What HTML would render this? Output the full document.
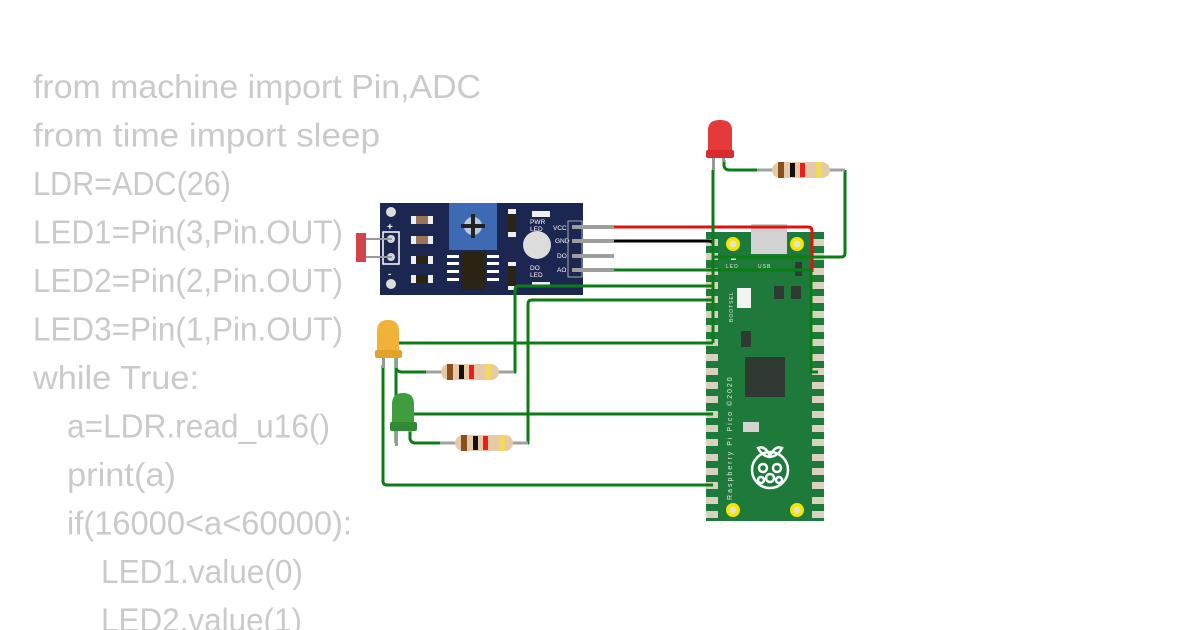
<!DOCTYPE html>
<html><head><meta charset="utf-8"><style>
html,body{margin:0;padding:0;background:#fff;width:1200px;height:630px;overflow:hidden}
</style></head><body>
<svg width="1200" height="630" viewBox="0 0 1200 630" xmlns="http://www.w3.org/2000/svg">
<defs>
<g id="res">
  <rect x="0" y="-1.5" width="88" height="3" fill="#a0a0a0"/>
  <rect x="15" y="-8" width="58" height="16" rx="8" fill="#e6c9a6"/>
  <rect x="21" y="-8" width="6" height="16" fill="#8a4f1c"/>
  <rect x="33" y="-7" width="5" height="14" fill="#111"/>
  <rect x="43" y="-7" width="5" height="14" fill="#ee1c1c"/>
  <rect x="59" y="-8" width="6" height="16" fill="#f2d95a"/>
</g>
</defs>
<g font-family="Liberation Sans, sans-serif" font-size="33" fill="#cacaca">
<text x="33" y="98" textLength="448" lengthAdjust="spacingAndGlyphs">from machine import Pin,ADC</text>
<text x="33" y="146.5" textLength="347" lengthAdjust="spacingAndGlyphs">from time import sleep</text>
<text x="33" y="195" textLength="198" lengthAdjust="spacingAndGlyphs">LDR=ADC(26)</text>
<text x="33" y="243.5" textLength="310" lengthAdjust="spacingAndGlyphs">LED1=Pin(3,Pin.OUT)</text>
<text x="33" y="292" textLength="310" lengthAdjust="spacingAndGlyphs">LED2=Pin(2,Pin.OUT)</text>
<text x="33" y="340.5" textLength="310" lengthAdjust="spacingAndGlyphs">LED3=Pin(1,Pin.OUT)</text>
<text x="33" y="389" textLength="166" lengthAdjust="spacingAndGlyphs">while True:</text>
<text x="67" y="437.5" textLength="263" lengthAdjust="spacingAndGlyphs">a=LDR.read_u16()</text>
<text x="67" y="486" textLength="109" lengthAdjust="spacingAndGlyphs">print(a)</text>
<text x="67" y="534.5" textLength="285" lengthAdjust="spacingAndGlyphs">if(16000&lt;a&lt;60000):</text>
<text x="101" y="583" textLength="202" lengthAdjust="spacingAndGlyphs">LED1.value(0)</text>
<text x="101" y="631.5" textLength="201" lengthAdjust="spacingAndGlyphs">LED2.value(1)</text>
</g>

<!-- Pico board -->
<rect x="706" y="232" width="118" height="289" fill="#1e7a3a"/>
<rect x="751" y="224" width="36" height="14" fill="#cfcfcf"/>
<g fill="#d8d1bd">
<rect x="706" y="239" width="12" height="7"/><rect x="706" y="253" width="12" height="7"/><rect x="706" y="268" width="12" height="7"/><rect x="706" y="282" width="12" height="7"/><rect x="706" y="296" width="12" height="7"/><rect x="706" y="311" width="12" height="7"/><rect x="706" y="325" width="12" height="7"/><rect x="706" y="339" width="12" height="7"/><rect x="706" y="354" width="12" height="7"/><rect x="706" y="368" width="12" height="7"/><rect x="706" y="382" width="12" height="7"/><rect x="706" y="396" width="12" height="7"/><rect x="706" y="411" width="12" height="7"/><rect x="706" y="425" width="12" height="7"/><rect x="706" y="439" width="12" height="7"/><rect x="706" y="454" width="12" height="7"/><rect x="706" y="468" width="12" height="7"/><rect x="706" y="482" width="12" height="7"/><rect x="706" y="497" width="12" height="7"/><rect x="706" y="511" width="12" height="7"/>
<rect x="812" y="239" width="12" height="7"/><rect x="812" y="253" width="12" height="7"/><rect x="812" y="268" width="12" height="7"/><rect x="812" y="282" width="12" height="7"/><rect x="812" y="296" width="12" height="7"/><rect x="812" y="311" width="12" height="7"/><rect x="812" y="325" width="12" height="7"/><rect x="812" y="339" width="12" height="7"/><rect x="812" y="354" width="12" height="7"/><rect x="812" y="368" width="12" height="7"/><rect x="812" y="382" width="12" height="7"/><rect x="812" y="396" width="12" height="7"/><rect x="812" y="411" width="12" height="7"/><rect x="812" y="425" width="12" height="7"/><rect x="812" y="439" width="12" height="7"/><rect x="812" y="454" width="12" height="7"/><rect x="812" y="468" width="12" height="7"/><rect x="812" y="482" width="12" height="7"/><rect x="812" y="497" width="12" height="7"/><rect x="812" y="511" width="12" height="7"/>
</g>
<circle cx="733" cy="244" r="7" fill="#f5e600"/><circle cx="733" cy="244" r="3.5" fill="#e8e4c0"/>
<circle cx="797" cy="244" r="7" fill="#f5e600"/><circle cx="797" cy="244" r="3.5" fill="#e8e4c0"/>
<circle cx="733" cy="510" r="7" fill="#f5e600"/><circle cx="733" cy="510" r="3.5" fill="#e8e4c0"/>
<circle cx="797" cy="510" r="7" fill="#f5e600"/><circle cx="797" cy="510" r="3.5" fill="#e8e4c0"/>
<rect x="751" y="232" width="36" height="22" fill="#d2d2d2"/>
<rect x="731" y="257" width="5" height="3" fill="#eee"/>
<text x="726" y="268" font-family="Liberation Sans, sans-serif" font-size="5" fill="#e6e6e6" letter-spacing="1">LED</text>
<text x="758" y="268" font-family="Liberation Sans, sans-serif" font-size="5" fill="#e6e6e6" letter-spacing="1">USB</text>
<rect x="795" y="262" width="7" height="14" fill="#2f3a33"/>
<rect x="737" y="288" width="14" height="20" fill="#f2f2f2"/>
<rect x="774" y="286" width="10" height="13" fill="#2f3a33"/><rect x="791" y="286" width="10" height="13" fill="#2f3a33"/>
<rect x="741" y="331" width="10" height="16" fill="#2f3a33"/>
<rect x="745" y="357" width="40" height="40" fill="#2f3a33"/>
<rect x="743" y="422" width="16" height="10" fill="#d2d2d2"/>
<text transform="translate(732,500) rotate(-90)" font-family="Liberation Sans, sans-serif" font-size="7" fill="#e6e6e6" letter-spacing="2">Raspberry Pi Pico ©2020</text>
<text transform="translate(733,322) rotate(-90)" font-family="Liberation Sans, sans-serif" font-size="5" fill="#e6e6e6" letter-spacing="1">BOOTSEL</text>
<g fill="none" stroke="#fff" stroke-width="2.5">
<circle cx="770" cy="470" r="18"/>
<path d="M758 448 Q765 445 770 456 Q775 445 782 448 Q778 456 770 457 Q762 456 758 448Z"/>
<circle cx="763" cy="468" r="4"/><circle cx="777" cy="468" r="4"/><circle cx="770" cy="478" r="4"/><circle cx="761" cy="480" r="3"/><circle cx="779" cy="480" r="3"/>
</g>

<!-- Sensor board -->
<rect x="380" y="203" width="203" height="92" fill="#1b2651"/>
<rect x="449" y="203" width="48" height="47" fill="#3e6ab3"/>
<circle cx="473" cy="226" r="9" fill="#bcc7dc"/>
<rect x="471" y="214" width="4" height="24" fill="#222"/><rect x="461" y="224" width="24" height="4" fill="#222"/>
<circle cx="391" cy="212" r="5" fill="#ddd"/><circle cx="391" cy="284" r="5" fill="#ddd"/>
<text x="387" y="230" font-family="Liberation Sans" font-size="10" fill="#fff" font-weight="bold">+</text>
<text x="388" y="277" font-family="Liberation Sans" font-size="10" fill="#fff" font-weight="bold">-</text>
<rect x="383" y="232" width="16" height="32" fill="none" stroke="#fff" stroke-width="1.5"/>
<circle cx="391" cy="239" r="4" fill="#cfd3da"/><circle cx="391" cy="257" r="4" fill="#cfd3da"/>
<rect x="362" y="238" width="30" height="2" fill="#999"/><rect x="362" y="256" width="30" height="2" fill="#999"/>
<rect x="356" y="233" width="10" height="29" fill="#d2444b"/>
<rect x="411" y="216" width="22" height="8" fill="#eee"/><rect x="416" y="216" width="12" height="8" fill="#9b7355"/>
<rect x="411" y="236" width="22" height="8" fill="#eee"/><rect x="416" y="236" width="12" height="8" fill="#9b7355"/>
<rect x="411" y="256" width="22" height="8" fill="#eee"/><rect x="416" y="256" width="12" height="8" fill="#2a2414"/>
<rect x="411" y="275" width="22" height="8" fill="#eee"/><rect x="416" y="275" width="12" height="8" fill="#2a2414"/>
<rect x="461" y="252" width="24" height="38" fill="#2a2414"/>
<g fill="#fff"><rect x="447" y="255" width="12" height="3"/><rect x="447" y="262" width="12" height="3"/><rect x="447" y="270" width="12" height="3"/><rect x="447" y="278" width="12" height="3"/>
<rect x="487" y="255" width="12" height="3"/><rect x="487" y="262" width="12" height="3"/><rect x="487" y="270" width="12" height="3"/><rect x="487" y="278" width="12" height="3"/></g>
<rect x="508" y="209" width="8" height="28" fill="#eee"/><rect x="508" y="214" width="8" height="18" fill="#2a2414"/>
<rect x="508" y="262" width="8" height="28" fill="#eee"/><rect x="508" y="266" width="8" height="20" fill="#2a2414"/>
<rect x="532" y="211" width="18" height="6" fill="#eee"/>
<rect x="532" y="282" width="18" height="5" fill="#eee"/>
<circle cx="537" cy="245" r="14" fill="#dcdcdc"/>
<g font-family="Liberation Sans, sans-serif" font-size="6.5" fill="#fff">
<text x="530" y="224">PWR</text><text x="530" y="231">LED</text>
<text x="530" y="270">DO</text><text x="530" y="277">LED</text>
<text x="553" y="230">VCC</text><text x="555" y="243">GND</text><text x="557" y="258">DO</text><text x="557" y="272">AO</text>
</g>
<rect x="568" y="221" width="14" height="56" fill="none" stroke="#aaa" stroke-width="1"/>
<g fill="#9d9d9d"><rect x="572" y="225" width="42" height="4"/><rect x="572" y="239" width="42" height="4"/><rect x="572" y="254" width="42" height="4"/><rect x="572" y="268" width="42" height="4"/></g>

<!-- wires -->
<g fill="none" stroke-width="3" stroke-linejoin="round">
<path d="M614 227 H808 Q812 227 812 231 V272" stroke="#e31010"/>
<path d="M614 241 H708 Q713 241 713 244" stroke="#000"/>
<g stroke="#0b7d14">
<path d="M614 270 H811 V372 H818"/>
<path d="M713 170 V343"/>
<path d="M724 160 V166 Q725 170 729 170 H757"/>
<path d="M845 170 V253 Q845 257 841 257 H713"/>
<path d="M713 286 H519 Q515 286 515 290 V372 H513"/>
<path d="M713 300 H532 Q528 300 528 304 V443 H526"/>
<path d="M713 343 H400 Q396 343 396 347 V443"/>
<path d="M383 365 V481 Q383 485 387 485 H713"/>
<path d="M713 414 H410"/>
<path d="M396 365 V368 Q397 372 402 372 H427"/>
<path d="M410 430 V439 Q411 443 415 443 H441"/>
</g>
</g>

<!-- Red LED -->
<rect x="712" y="150" width="3" height="20" fill="#999"/><rect x="722" y="150" width="3" height="12" fill="#999"/>
<path d="M708 152 V130 Q708 120 720 120 Q732 120 732 130 V152 Z" fill="#e43a3a"/>
<rect x="706" y="150" width="28" height="8" rx="2" fill="#d82c2c"/>
<use href="#res" x="757" y="170"/>

<!-- Yellow LED -->
<rect x="382" y="350" width="3" height="18" fill="#999"/><rect x="395" y="350" width="3" height="18" fill="#999"/>
<path d="M377 352 V331 Q377 320 388 320 Q399 320 399 331 V352 Z" fill="#f0b23a"/>
<rect x="375" y="350" width="27" height="8" rx="2" fill="#e3a32a"/>
<use href="#res" x="426" y="372"/>

<!-- Green LED -->
<rect x="395" y="420" width="3" height="26" fill="#999"/><rect x="409" y="420" width="3" height="12" fill="#999"/>
<path d="M392 424 V404 Q392 393 403 393 Q414 393 414 404 V424 Z" fill="#3f9c3f"/>
<rect x="390" y="422" width="27" height="9" rx="2" fill="#2f8a33"/>
<use href="#res" x="440" y="443"/>
</svg>
</body></html>
